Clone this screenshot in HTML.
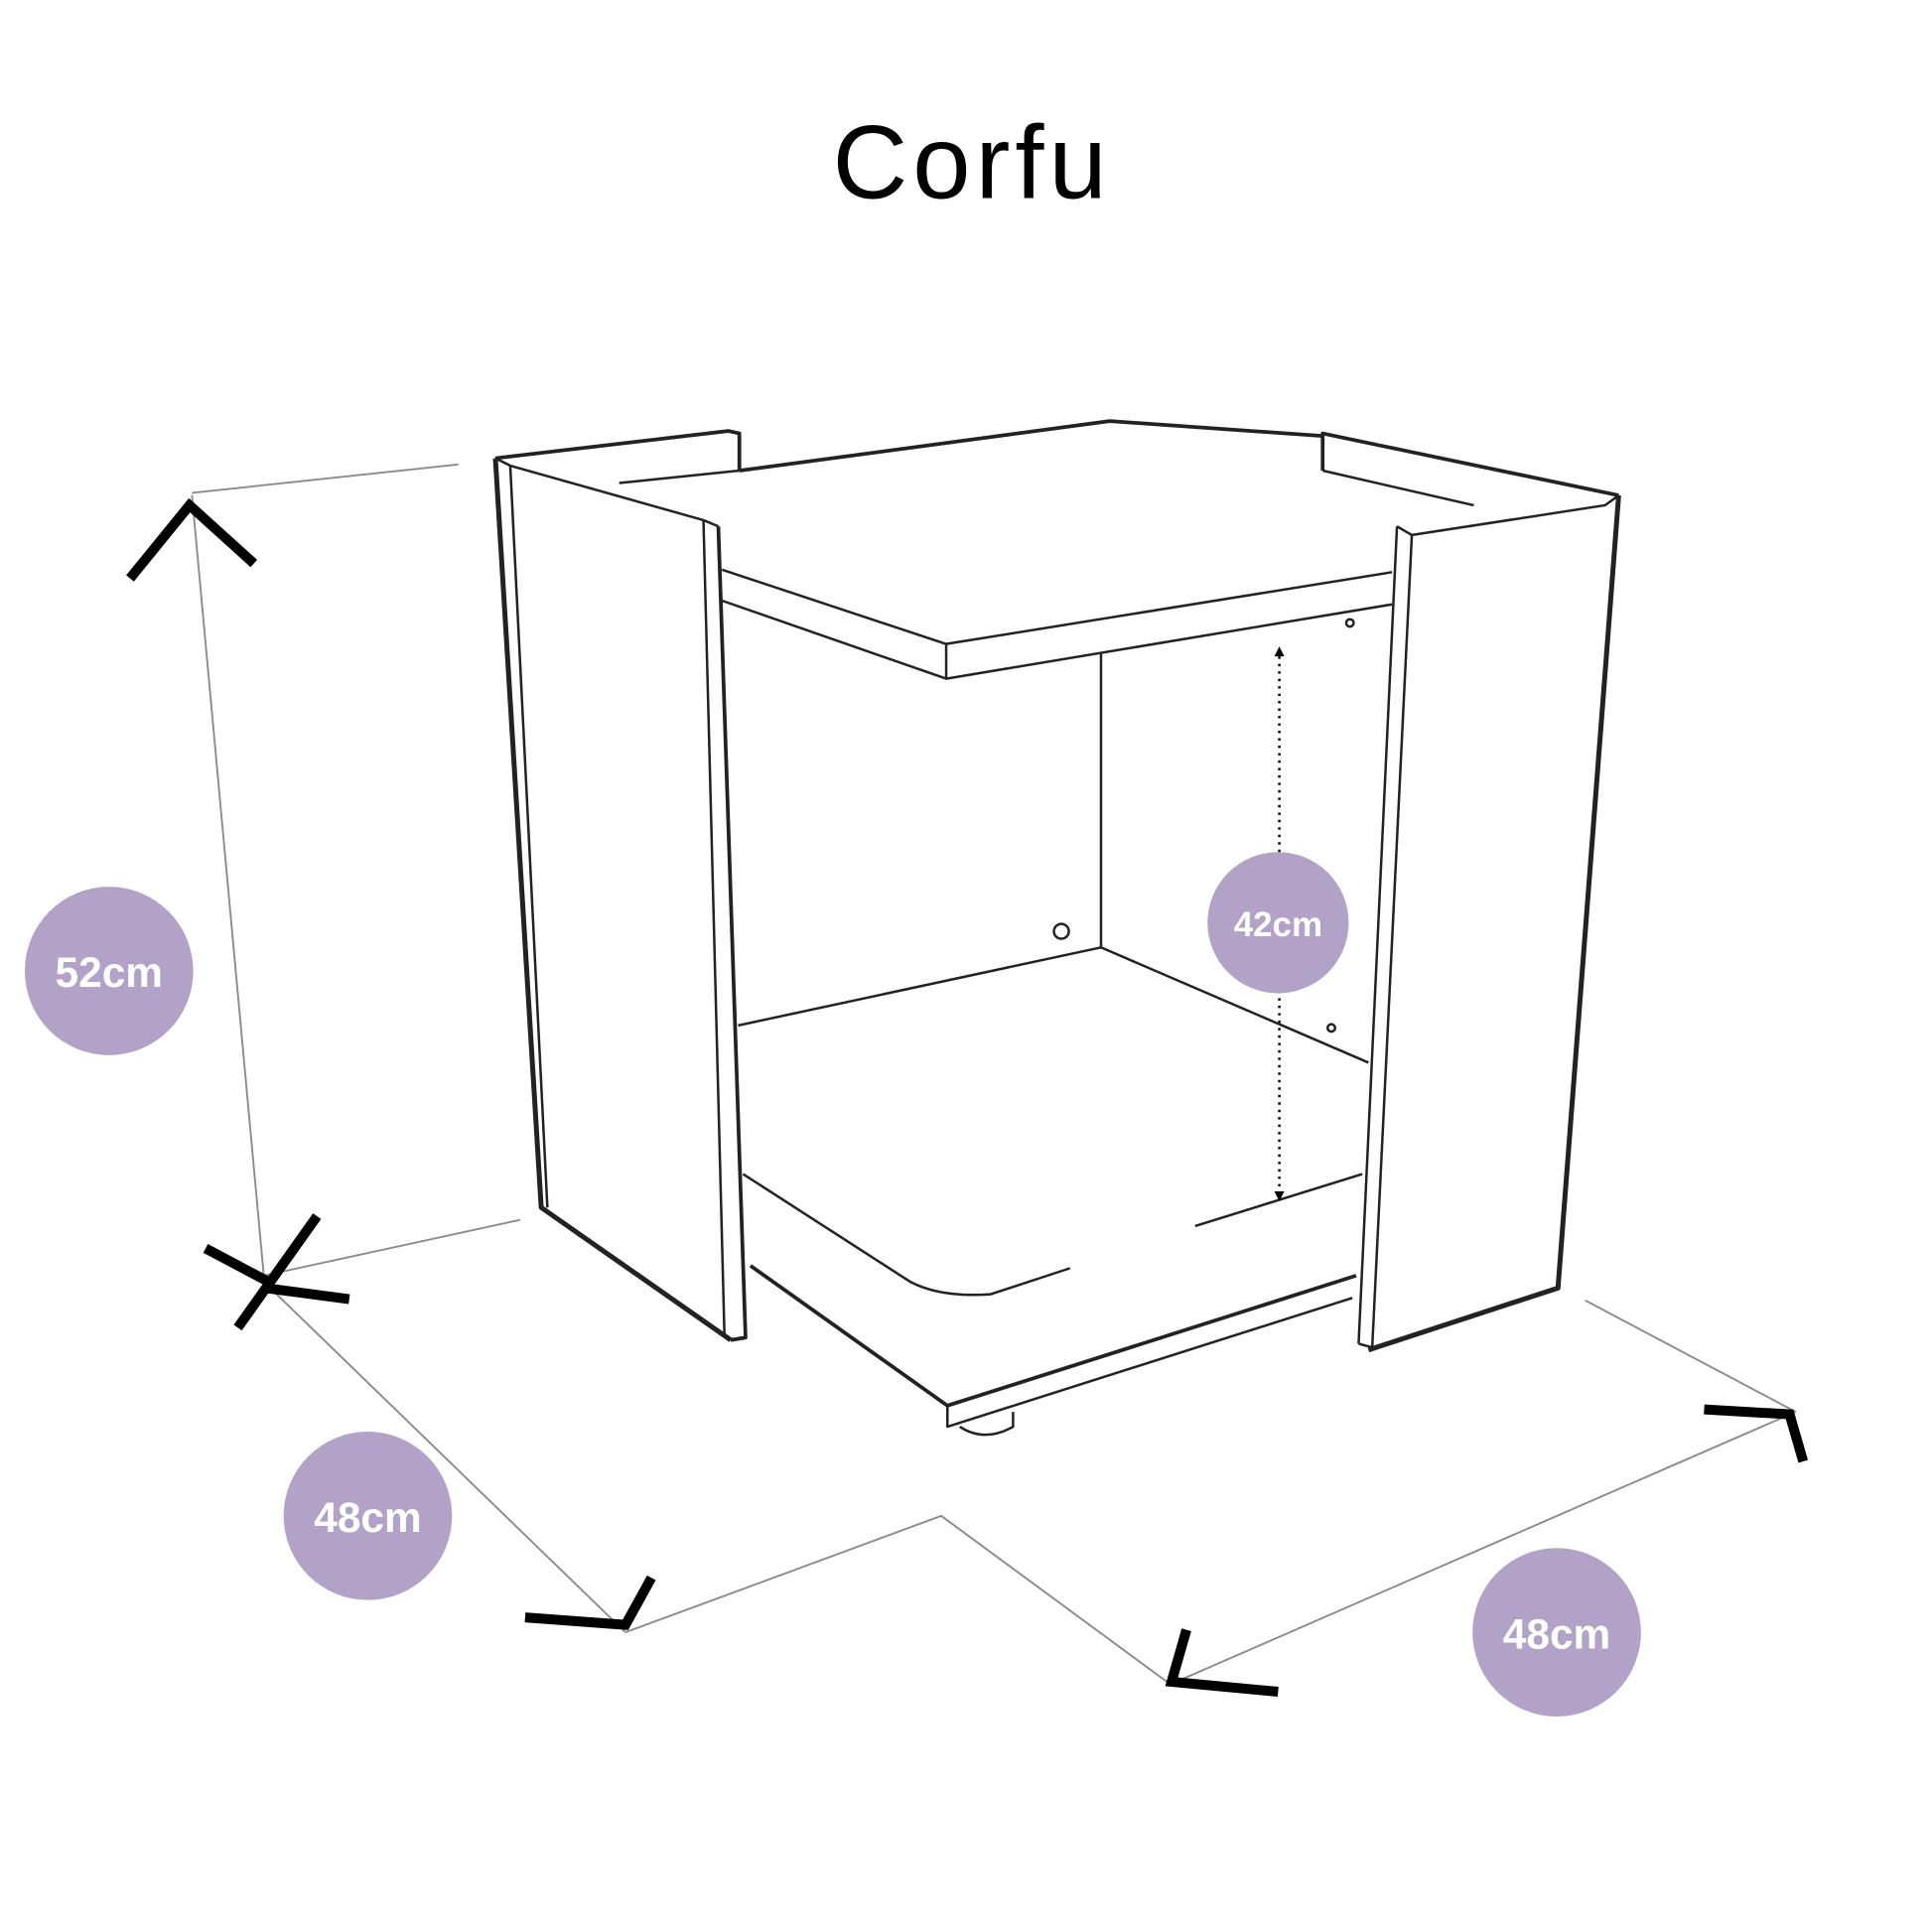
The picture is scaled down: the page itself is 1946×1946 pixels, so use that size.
<!DOCTYPE html>
<html><head><meta charset="utf-8"><style>
html,body{margin:0;padding:0;background:#fff;}
svg{display:block;}
</style></head><body>
<svg width="1946" height="1946" viewBox="0 0 1560 1560" xmlns="http://www.w3.org/2000/svg">
<rect width="1560" height="1560" fill="#fff"/>
<text x="785" y="160" text-anchor="middle" font-family="Liberation Sans, sans-serif" font-weight="normal" font-size="84" fill="#000" letter-spacing="4">Corfu</text>

<g stroke="#8a8a8a" stroke-width="1.5" fill="none">
<line x1="155" y1="398" x2="370" y2="375"/>
<line x1="155" y1="400" x2="213" y2="1030"/>
<line x1="213" y1="1030" x2="420" y2="985"/>
<line x1="213" y1="1035" x2="505" y2="1318"/>
<polyline points="505,1318 760,1224 945,1360"/>
<line x1="945" y1="1360" x2="1450" y2="1140"/>
<line x1="1280" y1="1050" x2="1450" y2="1140"/>
</g>
<g stroke="#000" stroke-width="8" fill="none" stroke-linecap="butt">
<polyline points="105,467 153,408 205,455"/>
<line x1="166" y1="1008" x2="215" y2="1034"/>
<line x1="192" y1="1072" x2="256" y2="982"/>
<line x1="214" y1="1040" x2="282" y2="1049"/>
<polyline points="424,1306 505,1312 526,1274"/>
<polyline points="958,1316 946,1358 1032,1366"/>
<polyline points="1376,1138 1445,1142 1456,1180"/>
</g>

<g stroke="#222" stroke-width="2" fill="none" stroke-linejoin="round">
<polyline points="597,380 896,340 1068,352" stroke-width="3"/>
<line x1="500" y1="390" x2="597" y2="380"/>
<line x1="1068" y1="380" x2="1190" y2="408"/>
<polyline points="400,370 588,348 597,350 597,380" stroke-width="3"/>
<polyline points="400,370 437,975 590,1082" stroke-width="4"/>
<polyline points="400,370 412,376 568,420 580,425"/>
<line x1="412" y1="376" x2="442" y2="975"/>
<line x1="568" y1="420" x2="585" y2="1080"/>
<polyline points="580,425 602,1080 590,1082" stroke-width="3"/>
<polyline points="1068,380 1068,350 1307,400" stroke-width="3"/>
<polyline points="1307,400 1258,1040 1105,1090" stroke-width="4"/>
<polyline points="1307,400 1296,408 1140,432 1128,425"/>
<line x1="1128" y1="425" x2="1097" y2="1085"/>
<line x1="1140" y1="432" x2="1108" y2="1088"/>
<line x1="1097" y1="1085" x2="1108" y2="1088"/>
<polyline points="583,460 764,520 1124,462"/>
<polyline points="583,485 764,548 1124,488"/>
<line x1="764" y1="520" x2="764" y2="548"/>
<line x1="889" y1="527" x2="889" y2="765"/>
<polyline points="596,828 889,765 1105,858"/>
<circle cx="857" cy="752" r="6"/>
<circle cx="1090" cy="503" r="3"/>
<circle cx="1075" cy="830" r="3"/>
<path d="M600,948 L735,1035 Q760,1048 800,1045 L864,1024"/>
<line x1="965" y1="990" x2="1100" y2="948"/>
<polyline points="606,1022 765,1135 1095,1030" stroke-width="3"/>
<polyline points="765,1135 765,1152 1092,1048"/>
<path d="M775,1152 Q795,1165 818,1152 L818,1140"/>
</g>
<line x1="1033" y1="530" x2="1033" y2="965" stroke="#000" stroke-width="2" stroke-dasharray="2,4"/>
<polygon points="1033,522 1029,530 1037,530" fill="#000"/>
<polygon points="1033,970 1029,962 1037,962" fill="#000"/>

<g fill="#b3a2c7">
<circle cx="88" cy="784" r="68"/>
<circle cx="297" cy="1224" r="68"/>
<circle cx="1257" cy="1318" r="68"/>
<circle cx="1032" cy="745" r="57"/>
</g>
<g fill="#fff" font-family="Liberation Sans, sans-serif" font-weight="bold" text-anchor="middle">
<text x="88" y="797" font-size="34">52cm</text>
<text x="297" y="1237" font-size="34">48cm</text>
<text x="1257" y="1331" font-size="34">48cm</text>
<text x="1032" y="756" font-size="28">42cm</text>
</g>
</svg>
</body></html>
